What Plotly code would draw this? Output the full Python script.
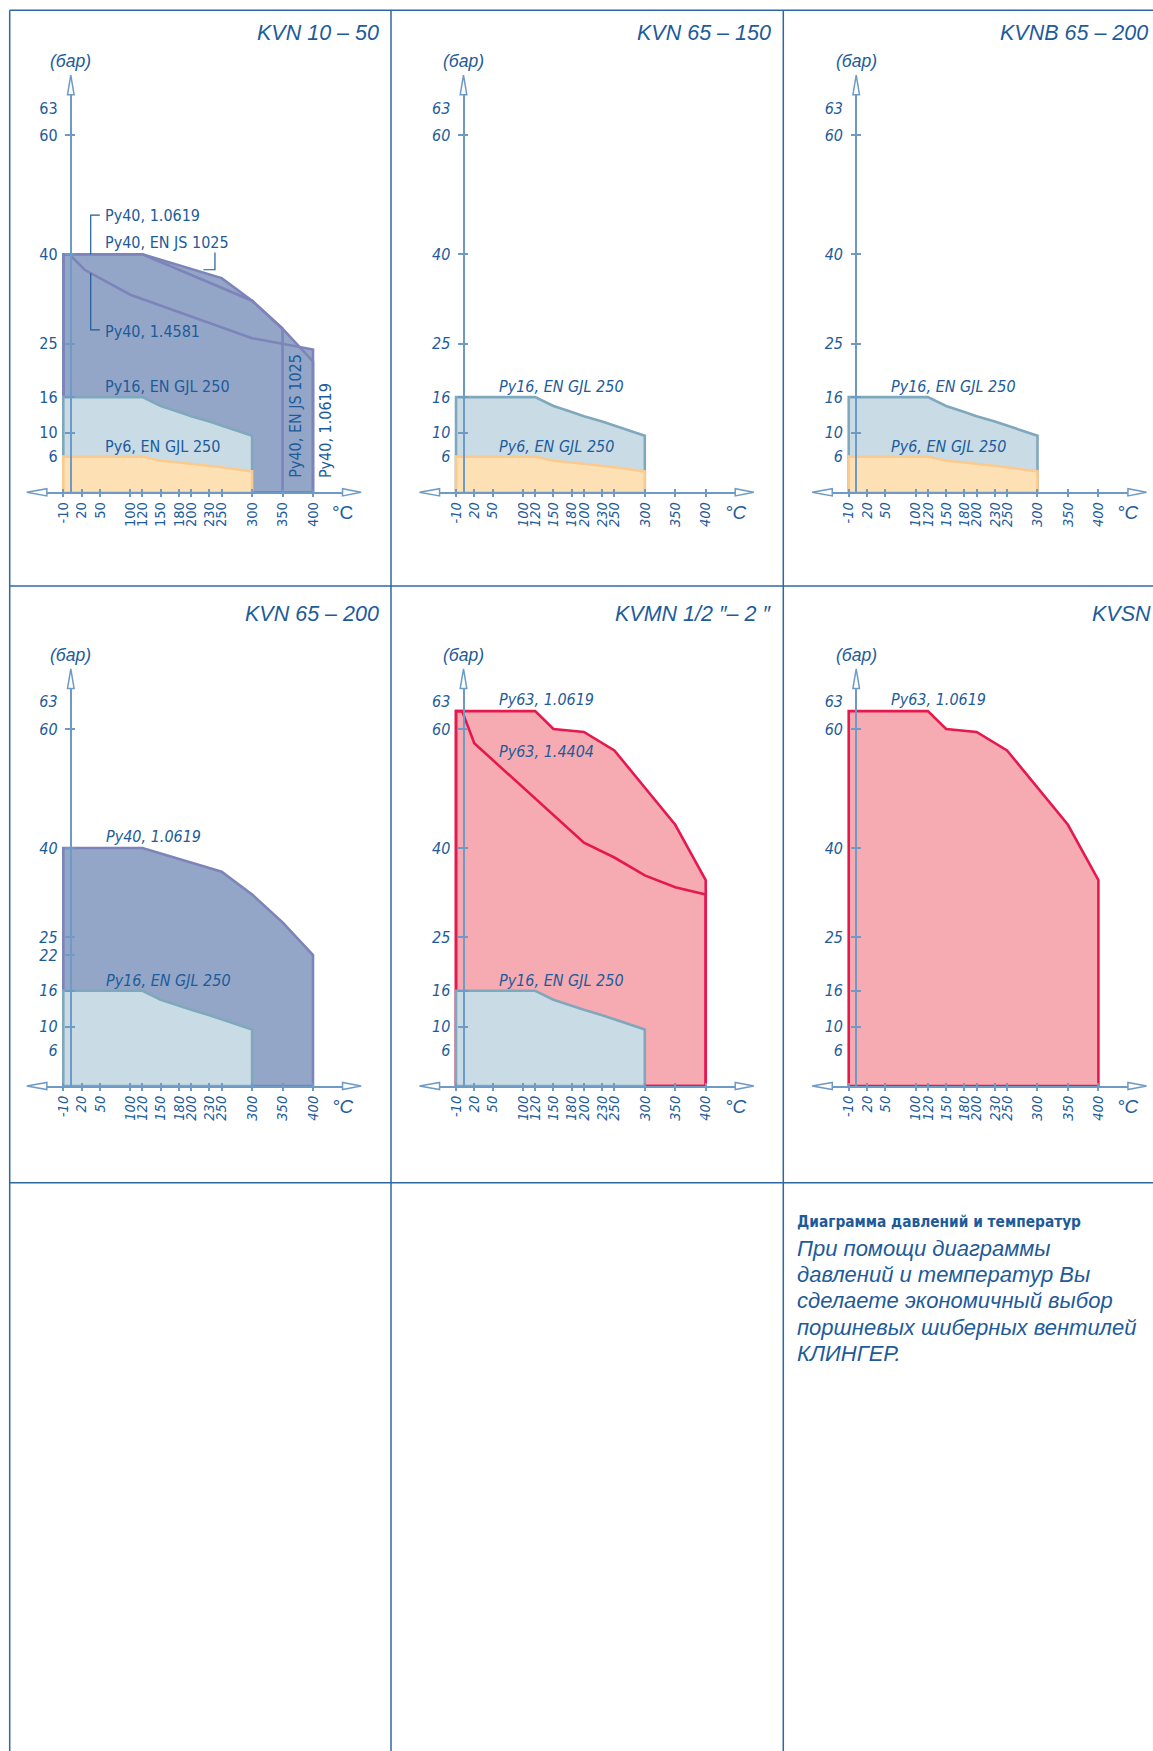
import plotly.graph_objects as go

W, H = 1153, 1751

# ---------------- data ----------------
TEMP_TICKS = [-10, 20, 50, 100, 120, 150, 180, 200, 230, 250, 300, 350, 400]
TEMP_TICK_TEXT = ["-10", "20", "50", "100", "120", "150", "180", "200", "230", "250", "300", "350", "400"]

LABEL_63_POS = 64.6   # the "63" label sits slightly above the 63 bar level
P_LABELS_STD = [6, 10, 16, 25, 40, 60, LABEL_63_POS]
P_LABELS_STD_TEXT = ["6", "10", "16", "25", "40", "60", "63"]
P_MARKS_STD = [10, 16, 25, 40, 60]
P_LABELS_P4 = [6, 10, 16, 22, 25, 40, 60, LABEL_63_POS]
P_LABELS_P4_TEXT = ["6", "10", "16", "22", "25", "40", "60", "63"]
P_MARKS_P4 = [10, 16, 22, 25, 40, 60]

# EN GJL 250 (Ру16 / Ру6)
T_GJL = [-10, 120, 150, 180, 200, 230, 250, 300]
P16_GJL = [16, 16, 14.5, 13.5, 12.8, 11.9, 11.2, 9.5]
P6_GJL = [6, 6, 5.3, 5.0, 4.8, 4.4, 4.2, 3.5]

# Ру40
T40_10619 = [-10, 120, 200, 250, 300, 350, 400]
P40_10619 = [40, 40, 37.6, 36.0, 32.2, 27.5, 22.0]
T40_JS1025 = [-10, 120, 300, 350]
P40_JS1025 = [40, 40, 32.2, 27.5]
T40_14581 = [-10, 0, 25, 100, 300, 400]
P40_14581 = [40, 40, 37.4, 33.2, 25.9, 24.0]

# Ру63
T63_10619 = [-10, 120, 150, 200, 250, 350, 400]
P63_10619 = [63, 63, 60, 59.5, 56.4, 43.9, 34.6]
T63_14404 = [-10, 0, 20, 200, 250, 300, 350, 400]
P63_14404 = [63, 63, 57.6, 40.9, 38.4, 35.4, 33.4, 32.2]

TITLES = ["KVN 10 – 50", "KVN 65 – 150", "KVNB 65 – 200",
          "KVN 65 – 200", "KVMN 1/2 ″– 2 ″", "KVSN"]

TEXT_HEAD = "Диаграмма давлений и температур"
TEXT_LINES = ["При помощи диаграммы", "давлений и температур Вы",
              "сделаете экономичный выбор", "поршневых шиберных вентилей",
              "КЛИНГЕР."]

# ---------------- style ----------------
TXT = "#1d5b9a"
AXC = "#6e9bc6"
BORDER = "#2d68a3"
STY = {
    "dark": ("#93a6c7", "#7d84ba"),
    "light": ("#c9dce6", "#80a8bc"),
    "orange": ("#fde1b4", "#fbca8e"),
    "red": ("#f6abb3", "#e6194f"),
}
NARROW = "Liberation Sans Narrow, Arial Narrow, DejaVu Sans Condensed, sans-serif"
SANS = "Liberation Sans, Arial, Helvetica, sans-serif"

# geometry (pixels)
COL_X0 = [69.4, 462.1, 854.8]     # px of 0 °C
ROW_Y0 = [492.3, 1086.0]          # px of 0 bar
SX, SY = 0.609, 5.95
T_MIN, T_MAX = -37, 448.5
P_MAX = 66.8
AXIS_T = 2.3
TITLE_P = [77.2, 79.4]
TITLE_T = [511, 511, 484, 511, 511, 386]
TITLE_ANCHOR = ["right", "right", "right", "right", "right", "left"]


def X(px):
    return px / W


def Y(py):
    return 1 - py / H


panels = [
    dict(col=0, row=0, upright=True, ylab=P_LABELS_STD, ytxt=P_LABELS_STD_TEXT, ymarks=P_MARKS_STD,
         layers=[("dark", [(T40_10619, P40_10619), (T40_JS1025, P40_JS1025), (T40_14581, P40_14581)]),
                 ("light", [(T_GJL, P16_GJL)]), ("orange", [(T_GJL, P6_GJL)])],
         notes=[("Ру40, 1.0619", 55.7, 46.5, 0), ("Ру40, EN JS 1025", 55.7, 42.0, 0),
                ("Ру40, 1.4581", 55.7, 27.1, 0), ("Ру16, EN GJL 250", 55.7, 17.7, 0),
                ("Ру6, EN GJL 250", 55.7, 7.7, 0), ("Ру40, EN JS 1025", 372, 2.1, -90),
                ("Ру40, 1.0619", 421, 2.1, -90)]),
    dict(col=1, row=0, upright=False, ylab=P_LABELS_STD, ytxt=P_LABELS_STD_TEXT, ymarks=P_MARKS_STD,
         layers=[("light", [(T_GJL, P16_GJL)]), ("orange", [(T_GJL, P6_GJL)])],
         notes=[("Ру16, EN GJL 250", 56.8, 17.7, 0), ("Ру6, EN GJL 250", 56.8, 7.7, 0)]),
    dict(col=2, row=0, upright=False, ylab=P_LABELS_STD, ytxt=P_LABELS_STD_TEXT, ymarks=P_MARKS_STD,
         layers=[("light", [(T_GJL, P16_GJL)]), ("orange", [(T_GJL, P6_GJL)])],
         notes=[("Ру16, EN GJL 250", 56.8, 17.7, 0), ("Ру6, EN GJL 250", 56.8, 7.7, 0)]),
    dict(col=0, row=1, upright=False, ylab=P_LABELS_P4, ytxt=P_LABELS_P4_TEXT, ymarks=P_MARKS_P4,
         layers=[("dark", [(T40_10619, P40_10619)]), ("light", [(T_GJL, P16_GJL)])],
         notes=[("Ру40, 1.0619", 56.8, 41.9, 0), ("Ру16, EN GJL 250", 56.8, 17.8, 0)]),
    dict(col=1, row=1, upright=False, ylab=P_LABELS_STD, ytxt=P_LABELS_STD_TEXT, ymarks=P_MARKS_STD,
         layers=[("red", [(T63_10619, P63_10619), (T63_14404, P63_14404)]),
                 ("light", [(T_GJL, P16_GJL)])],
         notes=[("Ру63, 1.0619", 56.8, 65.0, 0), ("Ру63, 1.4404", 56.8, 56.3, 0),
                ("Ру16, EN GJL 250", 56.8, 17.8, 0)]),
    dict(col=2, row=1, upright=False, ylab=P_LABELS_STD, ytxt=P_LABELS_STD_TEXT, ymarks=P_MARKS_STD,
         layers=[("red", [(T63_10619, P63_10619)])],
         notes=[("Ру63, 1.0619", 56.8, 65.0, 0)]),
]

fig = go.Figure()
layout = dict(width=W, height=H, margin=dict(l=0, r=0, t=0, b=0),
              paper_bgcolor="white", plot_bgcolor="rgba(0,0,0,0)",
              showlegend=False, hovermode=False)
annotations = []
shapes = []


def aid(prefix, n):
    return prefix if n == 1 else f"{prefix}{n}"


for i, pn in enumerate(panels):
    c, r = pn["col"], pn["row"]
    x0, y0 = COL_X0[c], ROW_Y0[r]

    def PX(t, x0=x0):
        return X(x0 + t * SX)

    def PY(p, y0=y0):
        return Y(y0 - p * SY)

    nb, no = 2 * i + 1, 2 * i + 2
    xb, xo, yb, yo = aid("x", nb), aid("x", no), aid("y", nb), aid("y", no)
    style = "normal" if pn["upright"] else "italic"
    xdom = [PX(T_MIN), PX(T_MAX)]
    ydom = [PY(0), PY(P_MAX)]
    ax_px = x0 + AXIS_T * SX

    layout[aid("xaxis", nb)] = dict(
        domain=xdom, range=[T_MIN, T_MAX], anchor=yb, showgrid=False, zeroline=False,
        showline=True, linecolor=AXC, linewidth=2, ticks="", tickvals=TEMP_TICKS,
        ticktext=TEMP_TICK_TEXT, tickangle=-90, ticklabelstandoff=2,
        tickfont=dict(family=NARROW, size=14.5, color=TXT, style=style))
    layout[aid("xaxis", no)] = dict(
        overlaying=xb, range=[T_MIN, T_MAX], anchor="free", position=Y(y0 - 4),
        side="bottom", showgrid=False, zeroline=False, showline=False,
        ticks="outside", ticklen=8, tickwidth=1.5, tickcolor=AXC,
        tickvals=TEMP_TICKS, showticklabels=False)
    layout[aid("yaxis", nb)] = dict(
        domain=ydom, range=[0, P_MAX], anchor="free", position=X(ax_px), side="left",
        showgrid=False, zeroline=False, showline=True, linecolor=AXC, linewidth=2,
        ticks="", tickvals=pn["ylab"], ticktext=pn["ytxt"], ticklabelstandoff=9,
        tickfont=dict(family=NARROW, size=16, color=TXT, style=style))
    layout[aid("yaxis", no)] = dict(
        overlaying=yb, range=[0, P_MAX], anchor="free", position=X(ax_px + 4.3), side="left",
        showgrid=False, zeroline=False, showline=False, ticks="outside", ticklen=10,
        tickwidth=1.5, tickcolor=AXC, tickvals=pn["ymarks"], showticklabels=False)

    # register overlay subplots
    fig.add_trace(go.Scatter(x=[None], y=[None], xaxis=xo, yaxis=yb, hoverinfo="skip"))
    fig.add_trace(go.Scatter(x=[None], y=[None], xaxis=xb, yaxis=yo, hoverinfo="skip"))

    # regions
    for key, curves in pn["layers"]:
        fcol, lcol = STY[key]
        polys = []
        for T, P in curves:
            xs = [T[0]] + list(T) + [T[-1], T[0]]
            ys = [0] + list(P) + [0, 0]
            polys.append((xs, ys))
        for xs, ys in polys:
            fig.add_trace(go.Scatter(x=xs, y=ys, xaxis=xb, yaxis=yb, mode="lines",
                                     fill="toself", fillcolor=fcol,
                                     line=dict(width=0, color=fcol), hoverinfo="skip"))
        for xs, ys in polys:
            fig.add_trace(go.Scatter(x=xs, y=ys, xaxis=xb, yaxis=yb, mode="lines",
                                     line=dict(width=2.6, color=lcol), hoverinfo="skip"))

    # texts outside the plotting range -> paper coordinates
    annotations.append(dict(text=TITLES[i], x=PX(TITLE_T[i]), y=PY(TITLE_P[r]),
                            xref="paper", yref="paper", xanchor=TITLE_ANCHOR[i],
                            yanchor="middle", showarrow=False,
                            font=dict(family=SANS, size=21.5, color=TXT, style="italic")))
    annotations.append(dict(text="(бар)", x=PX(AXIS_T), y=PY(72.5), xref="paper", yref="paper",
                            xanchor="center", yanchor="middle", showarrow=False,
                            font=dict(family=SANS, size=17.5, color=TXT, style="italic")))
    annotations.append(dict(text="°C", x=PX(449), y=PY(-3.4), xref="paper", yref="paper",
                            xanchor="center", yanchor="middle", showarrow=False,
                            font=dict(family=SANS, size=19, color=TXT, style=style)))
    for txt, tx, py, ang in pn["notes"]:
        if ang == 0:
            annotations.append(dict(text=txt, x=tx, y=py, xref=xb, yref=yb, xanchor="left",
                                    yanchor="middle", showarrow=False,
                                    font=dict(family=NARROW, size=16, color=TXT, style=style)))
        else:
            annotations.append(dict(text=txt, x=tx, y=py, xref=xb, yref=yb, xanchor="center",
                                    yanchor="bottom", textangle=ang, showarrow=False,
                                    font=dict(family=NARROW, size=16, color=TXT, style=style)))

    # axis arrowheads (paper)
    ty, by = y0 - 70.1 * SY, y0 - P_MAX * SY
    shapes.append(dict(type="path", xref="paper", yref="paper",
                       path=f"M {X(ax_px-3.3)},{Y(by)} L {X(ax_px+3.3)},{Y(by)} L {X(ax_px)},{Y(ty)} Z",
                       fillcolor="white", line=dict(color=AXC, width=1.5)))
    lt, lb = x0 - 70 * SX, x0 + T_MIN * SX
    shapes.append(dict(type="path", xref="paper", yref="paper",
                       path=f"M {X(lb)},{Y(y0-3.6)} L {X(lb)},{Y(y0+3.6)} L {X(lt)},{Y(y0)} Z",
                       fillcolor="white", line=dict(color=AXC, width=1.5)))
    rt, rb = x0 + 479 * SX, x0 + T_MAX * SX
    shapes.append(dict(type="path", xref="paper", yref="paper",
                       path=f"M {X(rb)},{Y(y0-3.6)} L {X(rb)},{Y(y0+3.6)} L {X(rt)},{Y(y0)} Z",
                       fillcolor="white", line=dict(color=AXC, width=1.5)))

# leader lines in first panel
for path in ["M 50,46.6 L 35,46.6 L 35,40", "M 239,40.3 L 239,37.4 L 220,37.4",
             "M 35,36.8 L 35,27.3 L 50,27.3"]:
    shapes.append(dict(type="path", xref="x", yref="y", path=path,
                       line=dict(color=TXT, width=1.2)))

# page frame
for (xa, ya, xb_, yb_) in [(9.7, 10.3, 1153, 10.3), (9.7, 10.3, 9.7, 1751),
                           (391, 10.3, 391, 1751), (783.3, 10.3, 783.3, 1751),
                           (9.7, 586, 1153, 586), (9.7, 1182.7, 1153, 1182.7)]:
    shapes.append(dict(type="line", xref="paper", yref="paper", x0=X(xa), y0=Y(ya),
                       x1=X(xb_), y1=Y(yb_), line=dict(color=BORDER, width=1.5)))

# text block
annotations.append(dict(text=TEXT_HEAD, x=X(795), y=Y(1222), xref="paper", yref="paper",
                        xanchor="left", yanchor="middle", showarrow=False,
                        font=dict(family=NARROW, size=15.3, color=TXT, weight="bold")))
for k, line in enumerate(TEXT_LINES):
    annotations.append(dict(text=line, x=X(795), y=Y(1248 + 26.4 * k), xref="paper", yref="paper",
                            xanchor="left", yanchor="middle", showarrow=False,
                            font=dict(family=SANS, size=22, color=TXT, style="italic")))

layout["annotations"] = annotations
layout["shapes"] = shapes
fig.update_layout(**layout)

fig.write_html("out.html", config={"displayModeBar": False},
               post_script="document.body.style.margin='0';document.body.style.overflow='hidden';")
